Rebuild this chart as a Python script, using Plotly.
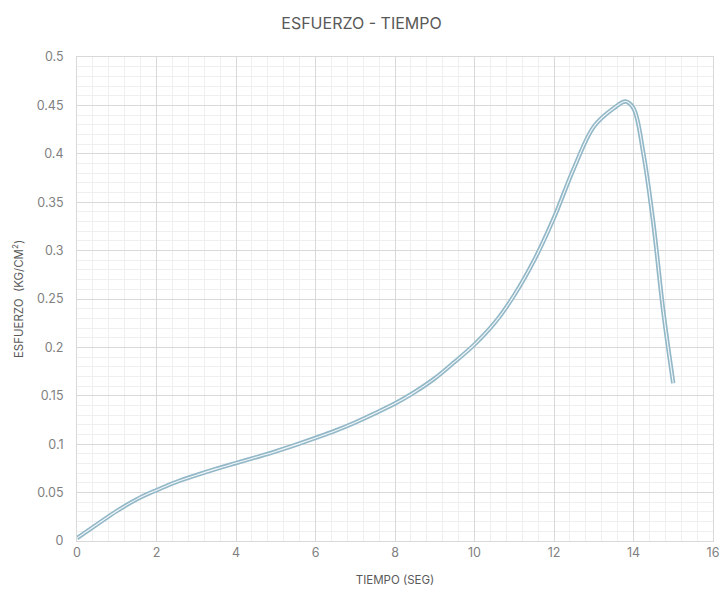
import plotly.graph_objects as go

tiempo = [0, 0.5, 1, 1.5, 2, 2.5, 3, 3.5, 4, 4.5, 5, 5.5, 6, 6.5, 7, 7.5, 8, 8.5,
          9, 9.5, 10, 10.5, 11, 11.5, 12, 12.5, 13, 13.5, 13.8, 14, 14.25, 14.5, 14.75, 15]
esfuerzo = [0.003, 0.017, 0.031, 0.043, 0.0525, 0.061, 0.068, 0.0745, 0.0805, 0.0865,
            0.0925, 0.0993, 0.1065, 0.114, 0.1225, 0.132, 0.142, 0.154, 0.168, 0.185,
            0.203, 0.225, 0.254, 0.29, 0.334, 0.385, 0.428, 0.447, 0.454, 0.447,
            0.40, 0.328, 0.237, 0.163]

title_text = "ESFUERZO - TIEMPO"
x_title = "TIEMPO (SEG)"
y_title = "ESFUERZO  (KG/CM<sup>2</sup>)"

font_family = "Inter, Roboto, 'Open Sans', sans-serif"

fig = go.Figure()
fig.add_trace(go.Scatter(x=tiempo, y=esfuerzo, mode="lines",
                         line=dict(color="#93b8c8", width=4.4, shape="spline", smoothing=1.0),
                         hoverinfo="skip", showlegend=False))
fig.add_trace(go.Scatter(x=tiempo, y=esfuerzo, mode="lines",
                         line=dict(color="#f4f8fa", width=1.1, shape="spline", smoothing=1.0),
                         showlegend=False))

fig.update_layout(
    width=723, height=590,
    margin=dict(l=77, r=10, t=57, b=49),
    paper_bgcolor="white", plot_bgcolor="white",
    font=dict(family=font_family, color="#7f7f7f"),
    title=dict(text=title_text, x=0.5, xanchor="center", y=0.96, yanchor="middle",
               font=dict(size=16, color="#595959", family=font_family)),
)
fig.update_xaxes(range=[0, 16], dtick=2, tick0=0, automargin=False,
                 showgrid=True, gridcolor="#d9d9d9", gridwidth=1,
                 minor=dict(dtick=0.4, showgrid=True, gridcolor="#efefef", gridwidth=1),
                 zeroline=False, showline=True, linecolor="#d9d9d9", mirror=True,
                 ticks="", tickfont=dict(size=12.5, color="#7f7f7f"),
                 title=dict(text=x_title, font=dict(size=11.5, color="#595959"), standoff=16))
fig.update_yaxes(range=[0, 0.5], dtick=0.05, tick0=0, automargin=False,
                 showgrid=True, gridcolor="#d9d9d9", gridwidth=1,
                 minor=dict(dtick=0.01, showgrid=True, gridcolor="#efefef", gridwidth=1),
                 zeroline=False, showline=True, linecolor="#d9d9d9", mirror=True,
                 ticks="", ticklabelstandoff=10, tickfont=dict(size=12.5, color="#7f7f7f"),
                 title=dict(text=y_title, font=dict(size=11.5, color="#595959"), standoff=10))

fig.write_html("out.html")
